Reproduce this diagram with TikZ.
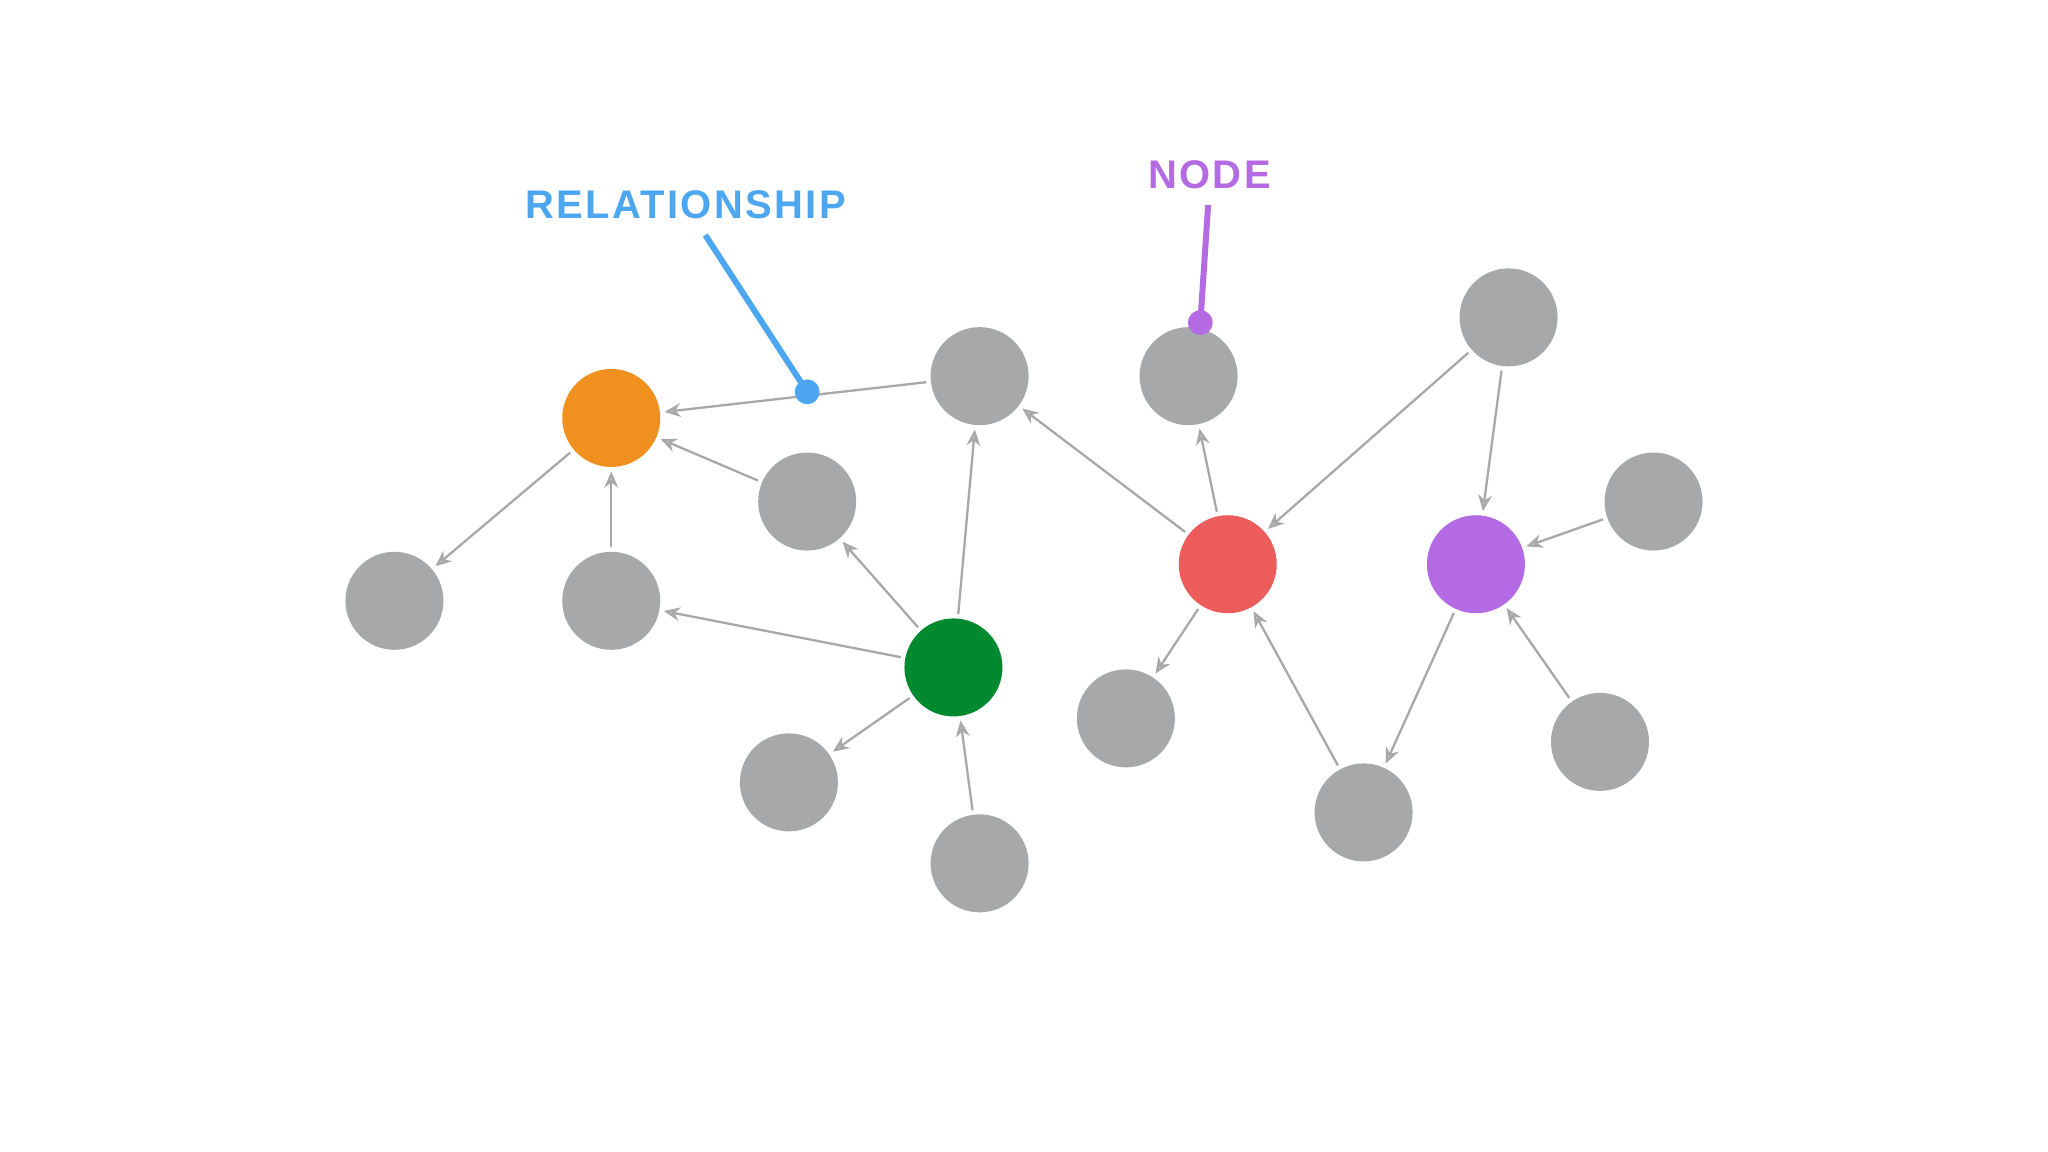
\documentclass[tikz,border=0pt]{standalone}
\usepackage{fontspec}
\setmainfont{Liberation Sans}
\usetikzlibrary{arrows.meta}
\definecolor{ng}{HTML}{A6A8A9}
\definecolor{nor}{HTML}{F0901E}
\definecolor{ngr}{HTML}{00892E}
\definecolor{nre}{HTML}{EB5C5A}
\definecolor{npu}{HTML}{B36AE2}
\definecolor{nbl}{HTML}{4DA6F0}
\definecolor{ed}{HTML}{A8A8A8}
\begin{document}
\begin{tikzpicture}[x=0.01cm,y=-0.01cm,
  n/.style={circle,fill=#1,minimum size=0.75cm,inner sep=0pt,outer sep=1pt},
  n/.default=ng,
  e/.style={draw=ed,line width=0.5pt,-{Stealth[length=3.5pt,width=3pt,open,fill=ed!60]}},
  lab/.style={font=\fontsize{8.7}{10}\selectfont\bfseries\addfontfeature{LetterSpace=6}},
  dot/.style={circle,fill=#1,minimum size=0.19cm,inner sep=0pt}]
\useasboundingbox (0,0) rectangle (1568,882);
\node[n=nor] (o) at (468,320) {};
\node[n] (A) at (302,460) {};
\node[n] (B) at (468,460) {};
\node[n] (C) at (618,384) {};
\node[n] (D) at (750,288) {};
\node[n=ngr] (g) at (730,511) {};
\node[n] (E) at (604,599) {};
\node[n] (F) at (750,661) {};
\node[n] (G) at (910,288) {};
\node[n=nre] (r) at (940,432) {};
\node[n] (H) at (862,550) {};
\node[n] (I) at (1155,243) {};
\node[n=npu] (p) at (1130,432) {};
\node[n] (J) at (1266,384) {};
\node[n] (K) at (1225,568) {};
\node[n] (L) at (1044,622) {};
\draw[e] (D) -- (o);
\draw[e] (o) -- (A);
\draw[e] (B) -- (o);
\draw[e] (C) -- (o);
\draw[e] (g) -- (C);
\draw[e] (g) -- (B);
\draw[e] (g) -- (D);
\draw[e] (g) -- (E);
\draw[e] (F) -- (g);
\draw[e] (r) -- (D);
\draw[e] (r) -- (G);
\draw[e] (r) -- (H);
\draw[e] (L) -- (r);
\draw[e] (I) -- (r);
\draw[e] (I) -- (p);
\draw[e] (J) -- (p);
\draw[e] (K) -- (p);
\draw[e] (p) -- (L);
\node[lab,text=nbl] (tr) at (525,157) {RELATIONSHIP};
\node[lab,text=npu] (tn) at (926,134) {NODE};
\coordinate (rs) at (540,180);
\coordinate (ns) at (925,157);
\node[dot=nbl] (rd) at (618,300) {};
\node[dot=npu] (nd) at (919,247) {};
\draw[nbl,line width=1.3pt] (rs) -- (rd.center);
\draw[npu,line width=1.3pt] (ns) -- (nd.center);
\end{tikzpicture}
\end{document}
